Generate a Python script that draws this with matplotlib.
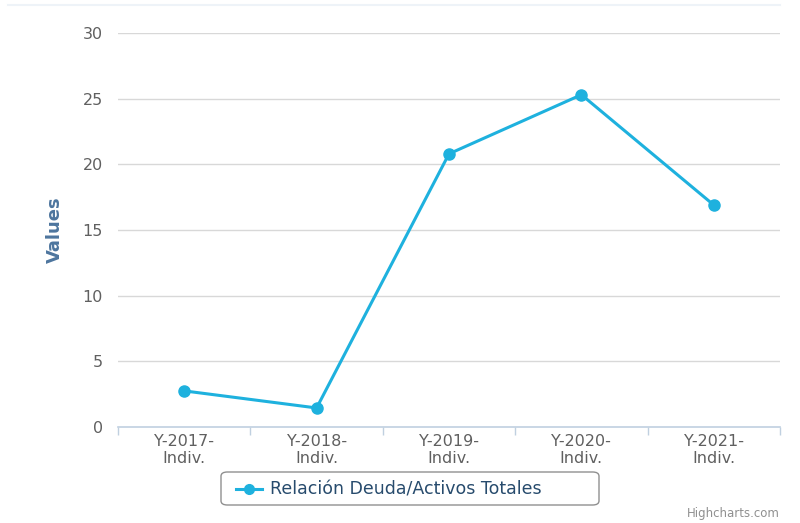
import matplotlib.pyplot as plt
import numpy as np
from matplotlib.patches import FancyBboxPatch

# Relación deuda / activos totales per año
CATEGORIES = ["Y-2017-\nIndiv.", "Y-2018-\nIndiv.", "Y-2019-\nIndiv.",
              "Y-2020-\nIndiv.", "Y-2021-\nIndiv."]
VALUES = [2.75, 1.45, 20.8, 25.3, 16.9]
Y_TICKS = [0, 5, 10, 15, 20, 25, 30]
SERIES_NAME = "Relación Deuda/Activos Totales"

LINE_COLOR = "#1eb1de"
GRID_COLOR = "#d8d8d8"
AXIS_COLOR = "#c0d0e0"
LABEL_COLOR = "#606060"

fig = plt.figure(figsize=(8.0, 5.23), dpi=100)
ax = fig.add_axes([118 / 800, 96 / 523, 662 / 800, 394 / 523])

x = np.arange(len(CATEGORIES))
ax.plot(x, VALUES, "-o", color=LINE_COLOR, lw=2.2, ms=8, zorder=3,
        clip_on=False)

ax.set_xlim(-0.5, len(CATEGORIES) - 0.5)
ax.set_ylim(0, 30)
ax.set_yticks(Y_TICKS)
ax.set_xticks(x)
ax.set_xticklabels(CATEGORIES, color=LABEL_COLOR, fontsize=11.5,
                   linespacing=1.15)
ax.set_xticks(np.arange(len(CATEGORIES) + 1) - 0.5, minor=True)
ax.tick_params(axis="x", which="major", length=0, pad=5)
ax.tick_params(axis="x", which="minor", length=6, color=AXIS_COLOR, width=1)
ax.tick_params(axis="y", length=0, pad=11, labelcolor=LABEL_COLOR,
               labelsize=11.5)

# Layout
for side in ["top", "right", "left"]:
    ax.spines[side].set_visible(False)
ax.spines["bottom"].set_color(AXIS_COLOR)
ax.spines["bottom"].set_linewidth(1.2)
ax.yaxis.grid(True, color=GRID_COLOR, lw=1)
ax.set_axisbelow(True)
for line in ax.get_ygridlines()[:1]:
    line.set_visible(False)

ax.set_ylabel("Values", color="#4d759e", fontsize=13, fontweight="bold",
              family=["Liberation Sans Narrow", "DejaVu Sans"], labelpad=13)

# Faint border at the top of the chart
fig.add_artist(plt.Line2D([8 / 800, 780 / 800], [518 / 523, 518 / 523],
                          color="#eef3f8", lw=1.5))

# Legend box
box = FancyBboxPatch((221 / 800, 18 / 523), 378 / 800, 33 / 523,
                     boxstyle="round,pad=0,rounding_size=0.008",
                     transform=fig.transFigure, fc="white", ec="#909090",
                     lw=1)
fig.add_artist(box)
fig.add_artist(plt.Line2D([236 / 800, 262 / 800], [34 / 523, 34 / 523],
                          color=LINE_COLOR, lw=2.2))
fig.add_artist(plt.Line2D([249 / 800], [34 / 523], color=LINE_COLOR,
                          marker="o", ms=7))
fig.text(270 / 800, 34 / 523, SERIES_NAME, color="#274b6d", fontsize=12.5,
         va="center", ha="left")

fig.text(780 / 800, 9 / 523, "Highcharts.com", color="#909090", fontsize=8.5,
         ha="right", va="center")

fig.savefig("out.png", dpi=100)
